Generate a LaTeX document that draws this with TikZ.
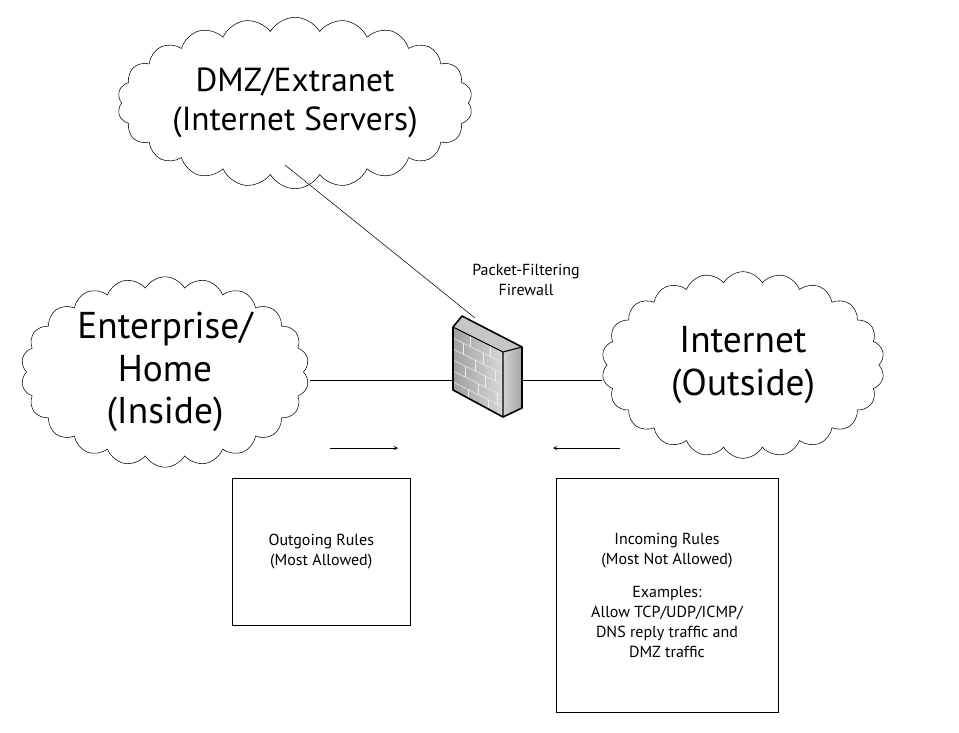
\documentclass[tikz,border=0pt]{standalone}
\usepackage{fontspec}
\setmainfont{PT Sans}
\usetikzlibrary{shapes.symbols}
\begin{document}
\begin{tikzpicture}[x=0.75pt,y=-0.75pt,
  cl/.style={cloud,cloud puffs=22,cloud puff arc=120,draw,thin,align=center,inner sep=0pt},
  bx/.style={draw,thin,align=center,font=\fontsize{12}{15}\selectfont},
  ln/.style={draw,thin}]
\useasboundingbox (0,0) rectangle (959,732);
\node[cl,minimum width=240pt,minimum height=96pt,aspect=2.4,font=\fontsize{25}{29}\selectfont] (dmz) at (295,103) {DMZ/Extranet\\(Internet Servers)};
\node[cl,minimum width=216pt,minimum height=135pt,aspect=1.6,font=\fontsize{28}{32}\selectfont] (ent) at (165,372) {Enterprise/\\Home\\(Inside)};
\node[cl,minimum width=212pt,minimum height=140pt,aspect=1.5,font=\fontsize{28}{32}\selectfont] (inet) at (743,365) {Internet\\(Outside)};
% firewall
\coordinate (fwtop) at (475,318);
\coordinate (fwl) at (453,380);
\coordinate (fwr) at (520,380);
\coordinate (d1) at (285,165);
\coordinate (e1) at (310,380);
\coordinate (i1) at (602,380);
\draw[thin] (d1) -- (fwtop);
\draw[thin] (e1) -- (fwl);
\draw[thin] (i1) -- (fwr);
\fill[gray!45] (462,316) -- (522,347) -- (503,352) -- (453,327) -- cycle;
\shade[left color=gray!75,right color=gray!30] (453,327) -- (503,352) -- (503,417) -- (453,390) -- cycle;
\shade[left color=gray!35,right color=gray!70] (503,352) -- (522,347) -- (522,408) -- (503,417) -- cycle;
\foreach \i in {1,...,5}{\draw[white!85!gray,thin] (453,327+\i*11) -- (503,352+\i*11);}
\foreach \x/\k in {470/0,490/0,463/1,483/1,475/2,495/2,465/3,485/3,478/4,497/4,468/5,488/5}{
  \pgfmathsetmacro{\ya}{327+\k*11+(\x-453)*0.5}
  \draw[white!85!gray,thin] (\x,\ya) -- (\x,\ya+11);}
\draw[line width=1.2pt,line join=round] (462,316) -- (522,347) -- (522,408) -- (503,417) -- (453,390) -- (453,327) -- cycle;
\draw[line width=0.8pt] (453,327) -- (503,352) -- (522,347) (503,352) -- (503,417);
\node[font=\fontsize{12}{15}\selectfont,align=center] (lbl) at (526,280) {Packet-Filtering\\Firewall};
% arrows
\coordinate (a1) at (330,448); \coordinate (a2) at (398,448);
\coordinate (b1) at (620,448); \coordinate (b2) at (553,448);
\draw[thin,-stealth] (a1) -- (a2);
\draw[thin,-stealth] (b1) -- (b2);
\node[bx,minimum width=133.5pt,minimum height=110pt,anchor=north west] (out) at (232,478) {Outgoing Rules\\(Most Allowed)};
\node[bx,minimum width=166.5pt,minimum height=175.5pt,anchor=north west] (inc) at (556,478) {};
\node[font=\fontsize{12}{15}\selectfont,align=center,anchor=north] (inct) at (667,528) {Incoming Rules\\(Most Not Allowed)\\[10pt]Examples:\\Allow TCP/UDP/ICMP/\\DNS reply traffic and\\DMZ traffic};
\end{tikzpicture}
\end{document}
